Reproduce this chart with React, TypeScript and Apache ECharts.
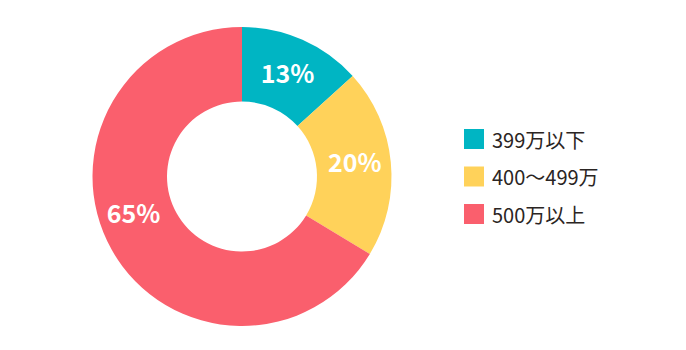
import React, { useEffect, useRef } from "react";
import * as echarts from "echarts";

const categories = ["399万以下", "400〜499万", "500万以上"];
const values = [13, 20, 65];
const colors = ["#00b5c3", "#ffd25a", "#fa5f6d"];

export default function App() {
  const ref = useRef<HTMLDivElement>(null);
  useEffect(() => {
    const chart = echarts.init(ref.current!, undefined, { renderer: "svg" });
    chart.setOption({
      animation: false,
      textStyle: { fontFamily: "'Noto Sans CJK JP', 'Noto Sans', sans-serif" },
      legend: {
        orient: "vertical",
        left: 464,
        top: 129,
        padding: 0,
        itemWidth: 20,
        itemHeight: 20,
        itemGap: 17.5,
        icon: "rect",
        data: categories,
        textStyle: {
          fontSize: 20,
          lineHeight: 20,
          color: "#2b2523",
          padding: [0, 0, 0, 3],
          fontFamily: "'Noto Sans CJK JP', sans-serif",
        },
      },
      series: [
        {
          type: "pie",
          center: [242, 176.5],
          radius: [75, 149.5],
          startAngle: 90,
          clockwise: true,
          avoidLabelOverlap: false,
          label: {
            show: true,
            position: "inside",
            formatter: "{c}%",
            color: "#ffffff",
            fontSize: 25,
            fontWeight: "bold",
            fontFamily: "'Noto Sans CJK JP', sans-serif",
          },
          labelLayout: (params: any) =>
            params.dataIndex === 2
              ? { dx: -8, dy: -21 }
              : params.dataIndex === 1
              ? { dx: -2, dy: -4 }
              : { dx: -1, dy: 1 },
          labelLine: { show: false },
          emphasis: { disabled: true },
          itemStyle: { borderWidth: 0 },
          data: categories.map((name, i) => ({
            name,
            value: values[i],
            itemStyle: { color: colors[i] },
          })),
        },
      ],
    });
    return () => chart.dispose();
  }, []);
  return <div ref={ref} style={{ width: 686, height: 350, position: "absolute", left: 0, top: 0 }} />;
}
